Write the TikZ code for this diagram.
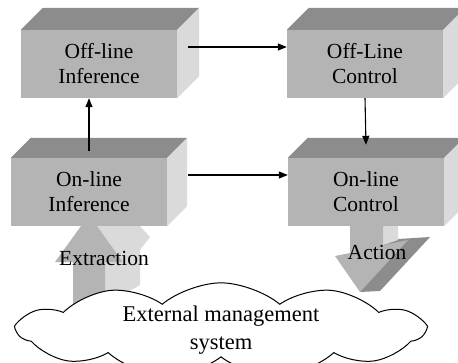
\documentclass[tikz,border=0pt]{standalone}
\usepackage{fontspec}
\setmainfont{Liberation Serif}
\usetikzlibrary{arrows.meta,shapes.symbols,calc}
\definecolor{frontgray}{HTML}{B4B4B4}
\definecolor{topgray}{HTML}{8C8C8C}
\definecolor{sidegray}{HTML}{DADADA}
\tikzset{
	block/.style={fill=frontgray,minimum width=156pt,minimum height=68pt,inner sep=0pt,align=center,font=\fontsize{21.5}{25}\selectfont},
	link/.style={-{Triangle[length=9pt,width=7pt]},line width=1.1pt},
	tag/.style={inner sep=0pt,font=\fontsize{21.5}{25}\selectfont}
}
\begin{document}
\begin{tikzpicture}[x=1pt,y=-1pt]
		\useasboundingbox (0,0) rectangle (458,362);
		% block arrows, behind the boxes
		\fill[sidegray] (105,305) -- (140,285) -- (140,250) -- (150,237) -- (116,200) -- (89,215) -- (123,262) -- (105,262) -- cycle;
		\fill[frontgray] (73,305) -- (73,262) -- (55,262) -- (89,215) -- (123,262) -- (105,262) -- (105,305) -- cycle;
		\fill[topgray] (383,240) -- (430,237) -- (380,291) -- (360,292) -- cycle;
		\fill[sidegray] (383,220) -- (398,220) -- (398,240) -- (383,245) -- cycle;
		\fill[frontgray] (350,220) -- (383,220) -- (383,245) -- (408,240) -- (360,292) -- (335,256) -- (350,253) -- cycle;
		% boxes
		\node[block] (offin) at (99,64) {Off-line\\Inference};
		\node[block] (offctl) at (365,64) {Off-Line\\Control};
		\node[block] (onin) at (89,192) {On-line\\Inference};
		\node[block] (onctl) at (366,192) {On-line\\Control};
		\foreach \n/\d in {offin/22,offctl/22,onin/20,onctl/20} {
			\fill[topgray] (\n.north west) -- ++(\d,-\d) -- ($(\n.north east)+(\d,-\d)$) -- (\n.north east) -- cycle;
			\fill[sidegray] (\n.north east) -- ++(\d,-\d) -- ($(\n.south east)+(\d,-\d)$) -- (\n.south east) -- cycle;
		}
		\node[cloud,draw,fill=white,cloud ignores aspect,cloud puffs=11,cloud puff arc=80,minimum width=406pt,minimum height=78pt,inner sep=0pt,line width=1pt,align=center,font=\fontsize{22.5}{28}\selectfont] (ems) at (221,330) {External management\\system};
		\node[tag] (extr) at (104,258) {Extraction};
		\node[tag] (act) at (377,252) {Action};
		% connectors
		\draw[link] ([xshift=11pt,yshift=17pt]offin.east) -- ([yshift=17pt]offctl.west);
		\draw[link] ([xshift=21pt,yshift=17pt]onin.east) -- ([yshift=17pt]onctl.west);
		\draw[link] ([yshift=7pt]onin.north) -- (onin.north |- offin.south);
		\draw[link] (offctl.south) -- ([yshift=13pt]onctl.north);
	\end{tikzpicture}
\end{document}
